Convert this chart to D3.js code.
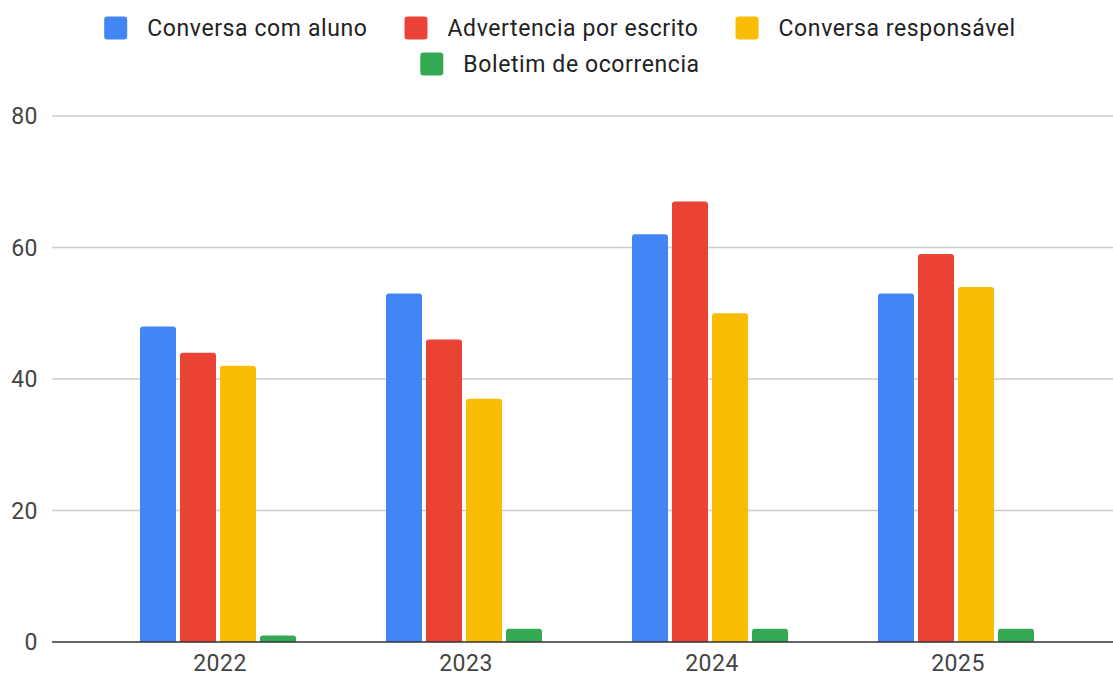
<!DOCTYPE html>
<html>
<head>
<meta charset="utf-8">
<script src="https://cdn.jsdelivr.net/npm/d3@7"></script>
<style>
  body { margin: 0; background: #fff; }
  svg { display: block; font-family: Roboto, "Noto Sans", sans-serif; }
</style>
</head>
<body>
<script>
// data
var years = ["2022", "2023", "2024", "2025"];
var seriesNames = ["Conversa com aluno", "Advertencia por escrito", "Conversa responsável", "Boletim de ocorrencia"];
var colors = ["#4285F4", "#EA4335", "#FBBC04", "#34A853"];
var conversaAluno = [48, 53, 62, 53];
var advertencia = [44, 46, 67, 59];
var conversaResp = [42, 37, 50, 54];
var boletim = [1, 2, 2, 2];
var yTicks = [0, 20, 40, 60, 80];

var allSeries = [conversaAluno, advertencia, conversaResp, boletim];

var width = 1113, height = 676;
var svg = d3.select("body").append("svg")
  .attr("width", width)
  .attr("height", height);

// scales
var y = d3.scaleLinear().domain([0, 80]).range([642, 116]);
var x0 = d3.scaleBand().domain(years).range([95, 1079]).padding(0);
var x1 = d3.scaleBand().domain(d3.range(seriesNames.length))
  .range([45, x0.bandwidth() - 45]).paddingInner(0.1);

// gridlines
svg.append("g").selectAll("line")
  .data(yTicks.filter(function(d){ return d > 0; }))
  .join("line")
  .attr("x1", 52).attr("x2", width)
  .attr("y1", function(d){ return y(d); })
  .attr("y2", function(d){ return y(d); })
  .attr("stroke", "#cccccc")
  .attr("stroke-width", 1.3);

// y labels
svg.append("g").selectAll("text")
  .data(yTicks)
  .join("text")
  .attr("x", 38)
  .attr("y", function(d){ return y(d); })
  .attr("dy", "0.35em")
  .attr("text-anchor", "end")
  .attr("font-size", 23)
  .attr("letter-spacing", 0.5)
  .attr("fill", "#444")
  .text(function(d){ return d; });

// bars with rounded tops
function barPath(bx, by, bw, bh, r) {
  r = Math.min(r, bh, bw / 2);
  return "M" + bx + "," + (by + bh) +
    "V" + (by + r) +
    "Q" + bx + "," + by + " " + (bx + r) + "," + by +
    "H" + (bx + bw - r) +
    "Q" + (bx + bw) + "," + by + " " + (bx + bw) + "," + (by + r) +
    "V" + (by + bh) + "Z";
}

var groups = svg.append("g").selectAll("g")
  .data(years)
  .join("g")
  .attr("transform", function(d){ return "translate(" + x0(d) + ",0)"; });

groups.selectAll("path")
  .data(function(d, i){
    return allSeries.map(function(s, k){ return { k: k, v: s[i] }; });
  })
  .join("path")
  .attr("d", function(d){
    var top = y(d.v);
    return barPath(x1(d.k), top, x1.bandwidth(), y(0) - top, 3);
  })
  .attr("fill", function(d){ return colors[d.k]; });

// baseline
svg.append("line")
  .attr("x1", 52).attr("x2", width)
  .attr("y1", y(0)).attr("y2", y(0))
  .attr("stroke", "#333")
  .attr("stroke-width", 1.6);

// x labels
svg.append("g").selectAll("text")
  .data(years)
  .join("text")
  .attr("x", function(d){ return x0(d) + x0.bandwidth() / 2 + 2; })
  .attr("y", 671)
  .attr("text-anchor", "middle")
  .attr("font-size", 23)
  .attr("letter-spacing", 0.5)
  .attr("fill", "#444")
  .text(function(d){ return d; });

// legend, two centred rows
var legendRows = [[0, 1, 2], [3]];
var rowY = [28, 64];
var box = 23, boxGap = 20, itemGap = 37, cx = 560;

legendRows.forEach(function(row, ri){
  var g = svg.append("g");
  var xpos = 0;
  row.forEach(function(k){
    var item = g.append("g").attr("transform", "translate(" + xpos + ",0)");
    item.append("rect")
      .attr("x", 0).attr("y", rowY[ri] - box / 2)
      .attr("width", box).attr("height", box)
      .attr("rx", 3)
      .attr("fill", colors[k]);
    var t = item.append("text")
      .attr("x", box + boxGap)
      .attr("y", rowY[ri])
      .attr("dy", "0.35em")
      .attr("font-size", 23)
      .attr("letter-spacing", 0.6)
      .attr("fill", "#222")
      .text(seriesNames[k]);
    xpos += box + boxGap + t.node().getComputedTextLength() + itemGap;
  });
  var total = xpos - itemGap;
  g.attr("transform", "translate(" + (cx - total / 2) + ",0)");
});
</script>
</body>
</html>
